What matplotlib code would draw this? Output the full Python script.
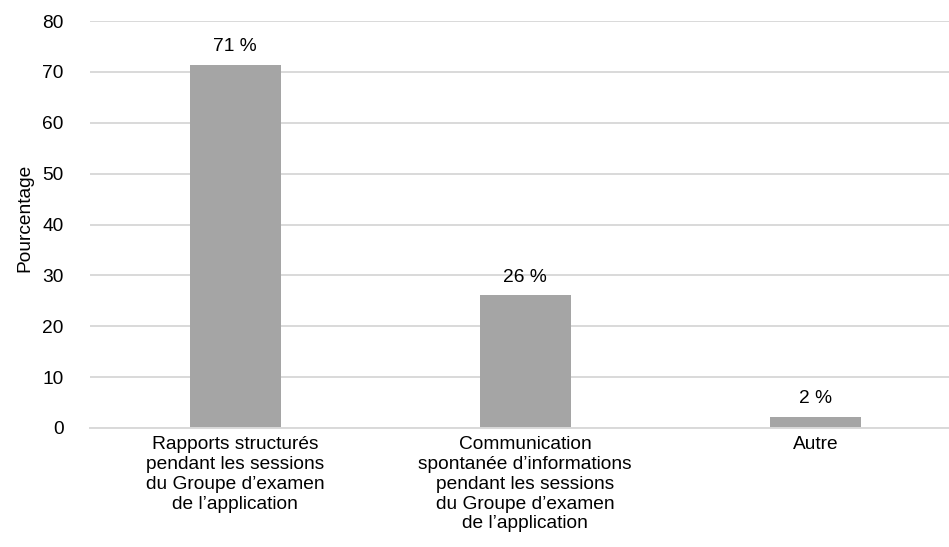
import matplotlib
matplotlib.use("Agg")
import matplotlib.pyplot as plt

categories = [
    "Rapports structurés\npendant les sessions\ndu Groupe d\u2019examen\nde l\u2019application",
    "Communication\nspontanée d\u2019informations\npendant les sessions\ndu Groupe d\u2019examen\nde l\u2019application",
    "Autre",
]
values = [71.4, 26.1, 2.2]
yticks = [0, 10, 20, 30, 40, 50, 60, 70, 80]
ylabel = "Pourcentage"

plt.rcParams["font.family"] = ["Liberation Sans", "DejaVu Sans"]
FS = 13.8

fig = plt.figure(figsize=(9.49, 5.47), dpi=100)
ax = fig.add_axes([90 / 949, 1 - 428 / 547, (949 - 90) / 949, (428 - 21) / 547])

x = list(range(len(categories)))
ax.bar(x, values, width=0.313, color="#a5a5a5", zorder=2)

for xi, v in zip(x, values):
    ax.annotate(f"{v:.0f} %", (xi, v), xytext=(0, 9.7), textcoords="offset points",
                ha="center", va="baseline", fontsize=FS, color="#000000")

ax.set_xlim(-0.5, 2.46)
ax.set_ylim(0, 80)
ax.set_yticks(yticks)
ax.set_yticklabels([str(t) for t in yticks], fontsize=FS)
ax.set_xticks(x)
ax.set_xticklabels(categories, fontsize=FS, linespacing=1.21)
ax.tick_params(axis="y", length=0, pad=19)
ax.tick_params(axis="x", length=0, pad=6)

ax.grid(axis="y", color="#d9d9d9", linewidth=1.4, zorder=0)
ax.set_axisbelow(True)
for side in ["top", "right", "left"]:
    ax.spines[side].set_visible(False)
ax.spines["bottom"].set_color("#d9d9d9")
ax.spines["bottom"].set_linewidth(1.4)

ax.set_ylabel(ylabel, fontsize=FS)
ax.yaxis.set_label_coords(-57 / 859, 0.517)

fig.savefig("out.png", dpi=100)
